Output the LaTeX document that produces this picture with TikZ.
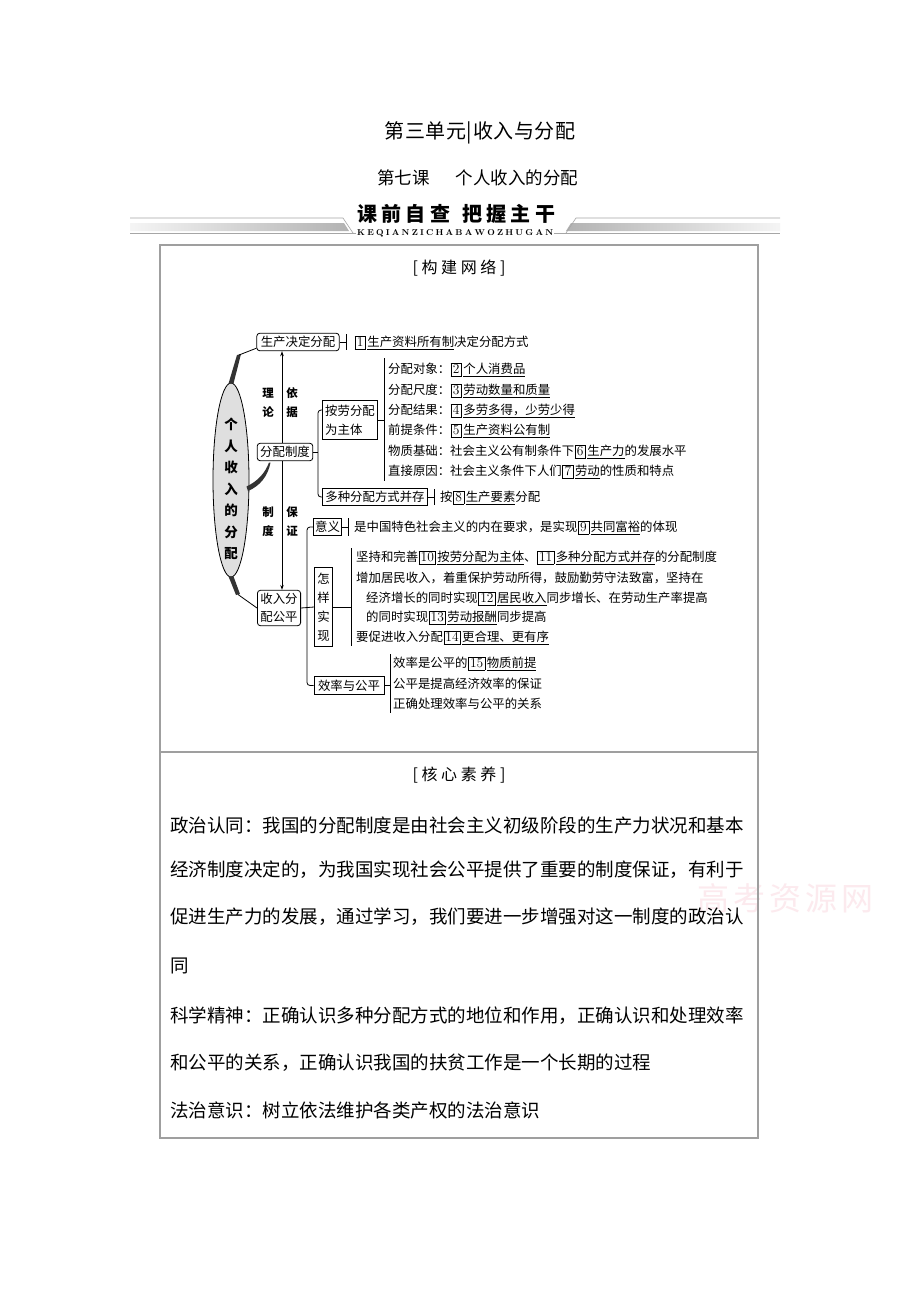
\documentclass[tikz,border=0pt]{standalone}
\usepackage{fontspec}
\newfontfamily\cjk{Noto Sans CJK SC}
\usetikzlibrary{shapes.geometric,arrows.meta,calc}
\def\sprA#1{#1\sprB}
\def\sprB#1{\ifx#1\relax\else\hfil#1\expandafter\sprB\fi}
\newcommand\spreadto[2]{\hbox to #1{\sprA#2\relax}}
\newcommand\dfont{\cjk\fontsize{12.4}{14}\selectfont}
\newcommand\pfont{\cjk\fontsize{18.5}{20}\selectfont}
\newcommand\ul[1]{\vtop{\hbox{#1}\kern1.3pt\hrule height 0.5pt}}
\newcommand\nb[1]{\kern0.5pt{\setlength\fboxsep{0pt}\setlength\fboxrule{0.6pt}\fbox{\rule[-2pt]{0pt}{12pt}\makebox[10pt]{\rmfamily\fontsize{13.5}{13.5}\selectfont #1}}}\kern1.5pt}
\newcommand\nbb[1]{\kern0.5pt{\setlength\fboxsep{0pt}\setlength\fboxrule{0.6pt}\fbox{\rule[-2pt]{0pt}{12pt}\makebox[16pt]{\rmfamily\fontsize{13.5}{13.5}\selectfont #1}}}\kern1.5pt}
\definecolor{wmcol}{RGB}{252,234,238}
\tikzset{
 dtx/.style={font=\dfont, anchor=base west, inner sep=0pt},
 rb/.style={draw, rounded corners=3pt, font=\dfont, inner xsep=4pt, inner ysep=3pt, line width=0.8pt},
 sb/.style={draw, font=\dfont, inner xsep=3pt, inner ysep=3pt, line width=0.8pt},
 lnk/.style={line width=0.8pt},
 brk/.style={line width=0.8pt, rounded corners=3pt},
 arr/.style={line width=0.8pt, -{Stealth[length=5pt,width=3.5pt]}},
 lab/.style={font=\cjk\bfseries\fontsize{11.5}{19}\selectfont, align=center, inner sep=0pt},
 para/.style={font=\pfont, anchor=base west, inner sep=0pt},
 tbl/.style={draw=gray!75, line width=1.2pt},
}
\begin{document}
\begin{tikzpicture}[x=1pt,y=-1pt]
\useasboundingbox (0,0) rectangle (920,1302);
\fill[white] (0,0) rectangle (920,1302);
% titles
\node[font=\cjk\fontsize{20}{22}\selectfont, inner sep=0] (t1) at (480,133) {\spreadto{191pt}{第三单元|收入与分配}};
\node[font=\cjk\fontsize{17.5}{20}\selectfont, inner sep=0, anchor=west] (t2) at (377,178) {第七课\hspace{26pt}个人收入的分配};
% banner
\shade[left color=gray!8, right color=gray!60] (130,223) -- (344,223) -- (349,231) -- (130,231) -- cycle;
\shade[left color=gray!60, right color=gray!8] (571,223) -- (780,223) -- (780,231) -- (566,231) -- cycle;
\draw[gray!70, line width=0.6pt] (130,218) -- (343,218) -- (353,233);
\draw[gray!70, line width=0.6pt] (566,233) -- (576,218) -- (780,218);
\draw[gray!70, line width=0.6pt] (130,233.5) -- (780,233.5);
\node[font=\cjk\bfseries\fontsize{20}{22}\selectfont, inner sep=0, anchor=west] (bn1) at (357,214) {\spreadto{93pt}{课前自查}};
\node[font=\cjk\bfseries\fontsize{20}{22}\selectfont, inner sep=0, anchor=west] (bn2) at (462,214) {\spreadto{93pt}{把握主干}};
\node[font=\bfseries\fontsize{8.5}{9}\selectfont, fill=white, inner xsep=1pt, inner ysep=0.5pt, anchor=west] (bn3) at (356,233) {\spreadto{196pt}{KEQIANZICHABAWOZHUGAN}};
% watermark
\node[font=\cjk\fontsize{32}{34}\selectfont, text=wmcol, inner sep=0] (wm) at (785,898) {\spreadto{176pt}{高考资源网}};
% table
\draw[tbl] (160,245) rectangle (758,1138);
\draw[tbl] (160,752) -- (758,752);
\node[font=\cjk\fontsize{16}{17}\selectfont, inner sep=0] (h1) at (459,268) {\spreadto{93pt}{[构建网络]}};
\node[font=\cjk\fontsize{16}{17}\selectfont, inner sep=0] (h2) at (459,775) {\spreadto{93pt}{[核心素养]}};
% ellipse
\node[ellipse, draw, fill=gray!25, line width=0.8pt, minimum width=36pt, minimum height=194pt, inner sep=0pt] (el) at (231,480) {};
\node[font=\cjk\bfseries\fontsize{13.5}{21.5}\selectfont, align=center, inner sep=0pt] (elt) at (231,489) {个\\人\\收\\入\\的\\分\\配};
% main boxes
\node[rb] (sc) at (298,342) {生产决定分配};
\node[rb, inner xsep=3pt] (fp) at (285,452) {分配制度};
\node[rb, align=center, font=\cjk\fontsize{12.4}{18}\selectfont, inner xsep=3pt] (sr) at (279,608) {收入分\\配公平};
\node[sb, align=left, font=\cjk\fontsize{12.4}{19}\selectfont, inner ysep=4pt] (al) at (350,420) {按劳分配\\为主体};
\node[sb] (dz) at (375,497) {多种分配方式并存};
\node[sb, inner xsep=1.5pt] (yi) at (327.5,527) {意义};
\node[sb, align=center, font=\cjk\fontsize{12.4}{19}\selectfont, inner ysep=5pt] (hs) at (323.5,607) {怎\\样\\实\\现};
\node[sb, inner xsep=4pt] (xl) at (349,685.5) {效率与公平};
% strokes from ellipse
\fill[black!80] ($(el.north)+(-2.5,1)$) -- (237,355) -- (241,354) -- ($(el.north)+(2.5,1)$) -- cycle;
\draw[lnk] (239,355) -- ([yshift=3pt]sc.south west);
\fill[black!80] ($(el.south)+(-2.5,-1)$) -- (236,595) -- (240,594) -- ($(el.south)+(2.5,-1)$) -- cycle;
\draw[lnk] (238,594.5) -- (sr.west);
\fill[black!80] (246.5,486.5) .. controls (258,481) and (265,473) .. (269,462.5) -- (270.5,462.5) .. controls (268,476) and (260,486) .. (248,491) -- cycle;
% vertical arrows
\coordinate (ax) at (282,0);
\draw[arr] (ax |- fp.north) -- (ax |- sc.south);
\draw[arr] (ax |- fp.south) -- (ax |- sr.north);
\node[lab] (l1) at (268,402.5) {理\\论};
\node[lab] (l2) at (292,402.5) {依\\据};
\node[lab] (l3) at (268,521.5) {制\\度};
\node[lab] (l4) at (292,521.5) {保\\证};
% row 1
\coordinate (k1) at (346,342);
\draw[lnk] (sc.east) -- (k1);
\draw[lnk] (346,334) -- (346,350);
\node[dtx] (r1) at (354,346.7) {\nb{1}\ul{生产资料所有制}决定分配方式};
% bracket of fenpei zhidu
\coordinate (b1) at (318,452);
\draw[lnk] (fp.east) -- (b1);
\draw[brk] ([yshift=10pt]al.west) -| (b1) |- (dz.west);
% list A
\coordinate (b2) at (384,420);
\draw[lnk] (al.east) -- (b2);
\draw[lnk] (384,358) -- (384,481);
\node[dtx] (a1) at (388,373.7) {分配对象：\nb{2}\ul{个人消费品}};
\node[dtx] (a2) at (388,394.7) {分配尺度：\nb{3}\ul{劳动数量和质量}};
\node[dtx] (a3) at (388,414.7) {分配结果：\nb{4}\ul{多劳多得，少劳少得}};
\node[dtx] (a4) at (388,434.7) {前提条件：\nb{5}\ul{生产资料公有制}};
\node[dtx] (a5) at (388,455.7) {物质基础：社会主义公有制条件下\nb{6}\ul{生产力}的发展水平};
\node[dtx] (a6) at (388,475.7) {直接原因：社会主义条件下人们\nb{7}\ul{劳动}的性质和特点};
% duozhong
\coordinate (k8) at (434,497);
\draw[lnk] (dz.east) -- (k8);
\draw[lnk] (434,489) -- (434,505);
\node[dtx] (r8) at (440,501.7) {按\nb{8}\ul{生产要素}分配};
% shouru fenpei gongping
\draw[lnk] (sr.east) -- (hs.west);
\draw[brk] (yi.west) -| (307,607) |- (xl.west);
\coordinate (k9) at (348,527);
\draw[lnk] (yi.east) -- (k9);
\draw[lnk] (348,518) -- (348,536);
\node[dtx] (r9) at (354,531.7) {是中国特色社会主义的内在要求，是实现\nb{9}\ul{共同富裕}的体现};
% list B
\coordinate (k10) at (351,607);
\draw[lnk] (hs.east) -- (k10);
\draw[lnk] (351,548) -- (351,646);
\node[dtx] (c1) at (356,561.7) {坚持和完善\nbb{10}\ul{按劳分配为主体}、\nbb{11}\ul{多种分配方式并存}的分配制度};
\node[dtx] (c2) at (356,582.7) {增加居民收入，着重保护劳动所得，鼓励勤劳守法致富，坚持在};
\node[dtx] (c3) at (366,602.7) {经济增长的同时实现\nbb{12}\ul{居民收入}同步增长、在劳动生产率提高};
\node[dtx] (c4) at (366,621.7) {的同时实现\nbb{13}\ul{劳动报酬}同步提高};
\node[dtx] (c5) at (356,641.7) {要促进收入分配\nbb{14}\ul{更合理、更有序}};
% list C
\coordinate (k15) at (390,685.5);
\draw[lnk] (xl.east) -- (k15);
\draw[lnk] (390,654) -- (390,713);
\node[dtx] (d1) at (393,667.7) {效率是公平的\nbb{15}\ul{物质前提}};
\node[dtx] (d2) at (393,688.7) {公平是提高经济效率的保证};
\node[dtx] (d3) at (393,708.7) {正确处理效率与公平的关系};
% paragraphs
\node[para] (p1) at (170,832) {\spreadto{572pt}{政治认同：我国的分配制度是由社会主义初级阶段的生产力状况和基本}};
\node[para] (p2) at (170,876) {\spreadto{572pt}{经济制度决定的，为我国实现社会公平提供了重要的制度保证，有利于}};
\node[para] (p3) at (170,923) {\spreadto{572pt}{促进生产力的发展，通过学习，我们要进一步增强对这一制度的政治认}};
\node[para] (p4) at (170,972) {同};
\node[para] (p5) at (170,1022) {\spreadto{572pt}{科学精神：正确认识多种分配方式的地位和作用，正确认识和处理效率}};
\node[para] (p6) at (170,1069) {和公平的关系，正确认识我国的扶贫工作是一个长期的过程};
\node[para] (p7) at (170,1117) {法治意识：树立依法维护各类产权的法治意识};
\end{tikzpicture}
\end{document}
